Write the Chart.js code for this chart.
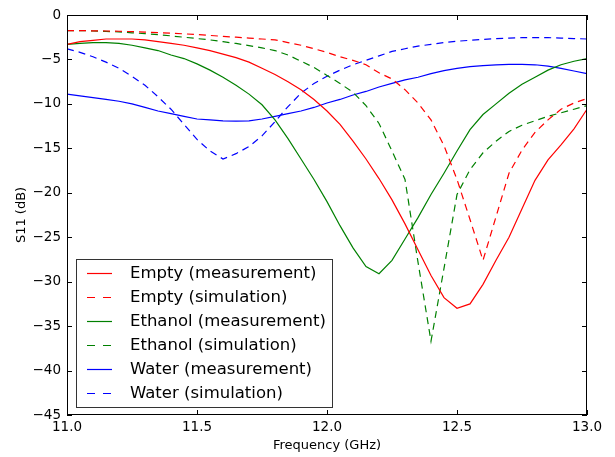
<!DOCTYPE html>
<html>
<head>
<meta charset="utf-8">
<script src="https://cdn.jsdelivr.net/npm/chart.js@4.4.1/dist/chart.umd.min.js"></script>
<style>
  body { margin: 0; background: #fff; }
  canvas { display: block; }
</style>
</head>
<body>
<canvas id="s11Chart" width="615" height="457"></canvas>
<script>
// frequency points, GHz
const freq = [11.0, 11.05, 11.1, 11.15, 11.2, 11.25, 11.3, 11.35, 11.4, 11.45,
  11.5, 11.55, 11.6, 11.65, 11.7, 11.75, 11.8, 11.85, 11.9, 11.95,
  12.0, 12.05, 12.1, 12.15, 12.2, 12.25, 12.3, 12.35, 12.4, 12.45,
  12.5, 12.55, 12.6, 12.65, 12.7, 12.75, 12.8, 12.85, 12.9, 12.95, 13.0];

const empty_meas = [-3.3, -3.0, -2.85, -2.7, -2.7, -2.7, -2.8, -3.0, -3.2, -3.4,
  -3.7, -4.0, -4.4, -4.8, -5.3, -6.0, -6.7, -7.5, -8.4, -9.5,
  -10.8, -12.3, -14.2, -16.2, -18.4, -20.8, -23.5, -26.4, -29.3, -31.8,
  -33.0, -32.5, -30.3, -27.6, -25.0, -21.8, -18.6, -16.3, -14.6, -12.8, -10.6];

const empty_sim = [-1.75, -1.75, -1.78, -1.8, -1.83, -1.87, -1.92, -1.98, -2.05, -2.12,
  -2.2, -2.3, -2.4, -2.5, -2.6, -2.7, -2.8, -3.1, -3.4, -3.8,
  -4.2, -4.7, -5.1, -5.6, -6.5, -7.2, -8.4, -9.9, -11.8, -14.7,
  -18.5, -23.0, -27.6, -22.7, -17.8, -15.2, -13.2, -11.8, -10.6, -9.9, -9.4];

const ethanol_meas = [-3.3, -3.2, -3.1, -3.1, -3.2, -3.4, -3.7, -4.0, -4.5, -4.9,
  -5.5, -6.2, -7.0, -7.9, -8.9, -10.1, -11.8, -13.9, -16.2, -18.5,
  -21.0, -23.7, -26.2, -28.3, -29.1, -27.6, -25.2, -22.8, -20.2, -17.8,
  -15.3, -12.9, -11.2, -10.0, -8.8, -7.8, -7.0, -6.2, -5.6, -5.2, -4.9];

const ethanol_sim = [-1.75, -1.75, -1.8, -1.85, -1.9, -2.0, -2.1, -2.2, -2.35, -2.5,
  -2.65, -2.8, -3.0, -3.2, -3.45, -3.7, -4.0, -4.5, -5.2, -5.9,
  -6.8, -7.7, -8.7, -10.2, -12.2, -15.3, -18.5, -27.8, -36.7, -28.5,
  -20.2, -17.4, -15.5, -14.2, -13.1, -12.4, -11.9, -11.4, -11.0, -10.6, -10.2];

const water_meas = [-8.9, -9.1, -9.3, -9.5, -9.7, -10.0, -10.4, -10.8, -11.1, -11.4,
  -11.7, -11.8, -11.9, -11.95, -11.9, -11.7, -11.4, -11.1, -10.8, -10.4,
  -9.9, -9.5, -9.0, -8.6, -8.1, -7.7, -7.3, -7.0, -6.6, -6.25,
  -6.0, -5.8, -5.7, -5.6, -5.55, -5.55, -5.6, -5.75, -6.0, -6.3, -6.6];

const water_sim = [-3.8, -4.2, -4.7, -5.3, -6.0, -6.9, -7.9, -9.2, -10.6, -12.3,
  -14.0, -15.3, -16.2, -15.6, -14.8, -13.6, -12.0, -10.3, -8.8, -7.7,
  -6.9, -6.2, -5.6, -5.1, -4.6, -4.1, -3.8, -3.5, -3.3, -3.1,
  -2.95, -2.85, -2.75, -2.65, -2.6, -2.55, -2.55, -2.55, -2.6, -2.65, -2.7];

const series_labels = ['Empty (measurement)', 'Empty (simulation)',
  'Ethanol (measurement)', 'Ethanol (simulation)',
  'Water (measurement)', 'Water (simulation)'];
const series_values = [empty_meas, empty_sim, ethanol_meas, ethanol_sim, water_meas, water_sim];
const series_colors = ['#ff0000', '#ff0000', '#008000', '#008000', '#0000ff', '#0000ff'];

const x_ticks = [11.0, 11.5, 12.0, 12.5, 13.0];
const y_ticks = [-45, -40, -35, -30, -25, -20, -15, -10, -5, 0];

const FONT = "'DejaVu Sans', sans-serif";

const datasets = series_values.map(function(vals, i) {
  return {
    label: series_labels[i],
    data: vals.map(function(v, j) { return { x: freq[j], y: v }; }),
    borderColor: series_colors[i],
    borderWidth: 1.2,
    borderDash: i % 2 === 1 ? [7, 5] : [],
    pointRadius: 0,
    fill: false,
    tension: 0
  };
});

// inward ticks on all four sides plus the frame
const frameTicks = {
  id: 'frameTicks',
  afterDatasetsDraw(chart) {
    const c = chart.ctx;
    const a = chart.chartArea;
    const xs = chart.scales.x, ys = chart.scales.y;
    c.save();
    c.strokeStyle = '#000';
    c.lineWidth = 1;
    c.beginPath();
    x_ticks.forEach(function(t) {
      const px = Math.round(xs.getPixelForValue(t)) + 0.5;
      c.moveTo(px, a.bottom); c.lineTo(px, a.bottom - 5);
      c.moveTo(px, a.top); c.lineTo(px, a.top + 5);
    });
    y_ticks.forEach(function(t) {
      const py = Math.round(ys.getPixelForValue(t)) + 0.5;
      c.moveTo(a.left, py); c.lineTo(a.left + 5, py);
      c.moveTo(a.right, py); c.lineTo(a.right - 5, py);
    });
    c.stroke();
    c.strokeRect(Math.round(a.left) + 0.5, Math.round(a.top) + 0.5,
      Math.round(a.right - a.left) - 1, Math.round(a.bottom - a.top) - 1);
    c.restore();
  }
};

// legend box in the lower left of the plot
const boxLegend = {
  id: 'boxLegend',
  afterDraw(chart) {
    const c = chart.ctx;
    const a = chart.chartArea;
    const left = a.left + 9, top = a.top + 244, w = 256, h = 148;
    c.save();
    c.setLineDash([]);
    c.lineDashOffset = 0;
    c.fillStyle = '#fff';
    c.fillRect(left, top, w, h);
    c.strokeStyle = '#333';
    c.lineWidth = 1;
    c.strokeRect(left + 0.5, top + 0.5, w, h);
    c.font = '16.5px ' + FONT;
    c.textBaseline = 'middle';
    chart.data.datasets.forEach(function(ds, i) {
      const y = Math.round(top + 14 + i * 23.9) + 0.5;
      c.strokeStyle = ds.borderColor;
      c.lineWidth = 1.2;
      c.beginPath();
      if (ds.borderDash.length) {
        c.moveTo(left + 11, y); c.lineTo(left + 19, y);
        c.moveTo(left + 27, y); c.lineTo(left + 35, y);
      } else {
        c.moveTo(left + 11, y); c.lineTo(left + 36, y);
      }
      c.stroke();
      c.fillStyle = '#000';
      c.fillText(ds.label, left + 54, y);
    });
    c.restore();
  }
};

new Chart(document.getElementById('s11Chart'), {
  type: 'line',
  data: { datasets: datasets },
  options: {
    responsive: false,
    animation: false,
    layout: { padding: { left: 0, top: 15, right: 28, bottom: 0 } },
    plugins: {
      legend: { display: false },
      tooltip: { enabled: false }
    },
    scales: {
      x: {
        type: 'linear',
        min: 11, max: 13,
        afterFit: function(s) { s.height = 42; },
        afterBuildTicks: function(s) { s.ticks = x_ticks.map(function(v) { return { value: v }; }); },
        grid: { display: false, drawTicks: false },
        border: { display: false },
        ticks: {
          color: '#000',
          padding: 4,
          maxRotation: 0,
          font: { family: FONT, size: 13.5 },
          callback: function(v) { return Number(v).toFixed(1); }
        },
        title: {
          display: true,
          text: 'Frequency (GHz)',
          color: '#000',
          font: { family: FONT, size: 13 },
          padding: { top: 0, bottom: 4 }
        }
      },
      y: {
        min: -45, max: 0,
        afterFit: function(s) { s.width = 67; },
        afterBuildTicks: function(s) { s.ticks = y_ticks.map(function(v) { return { value: v }; }); },
        grid: { display: false, drawTicks: false },
        border: { display: false },
        ticks: {
          color: '#000',
          padding: 6,
          font: { family: FONT, size: 13.5 },
          callback: function(v) { return v < 0 ? '\u2212' + Math.abs(v) : String(v); }
        },
        title: {
          display: true,
          text: 'S11 (dB)',
          color: '#000',
          font: { family: FONT, size: 13 },
          padding: { top: 14, bottom: 0 }
        }
      }
    }
  },
  plugins: [frameTicks, boxLegend]
});
</script>
</body>
</html>
